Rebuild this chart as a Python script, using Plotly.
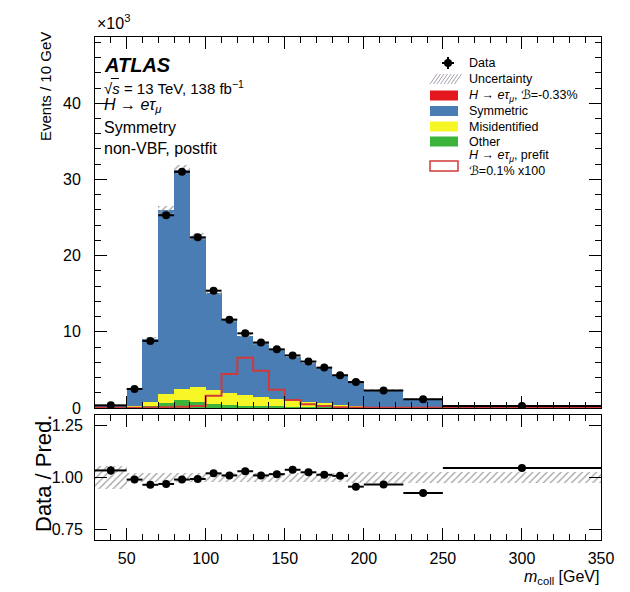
import plotly.graph_objects as go
from plotly.subplots import make_subplots

# ---------------- data ----------------
bin_edges = [30, 50, 60, 70, 80, 90, 100, 110, 120, 130, 140, 150, 160, 170, 180, 190, 200, 225, 250, 350]
# events / 10 GeV, in units of 10^3
data_vals = [0.35, 2.5, 8.8, 25.3, 31.0, 22.4, 15.4, 11.6, 9.8, 8.6, 7.7, 6.9, 6.1, 5.3, 4.3, 3.4, 2.3, 1.15, 0.27]
data_err = [0.02, 0.05, 0.09, 0.16, 0.18, 0.15, 0.12, 0.11, 0.1, 0.09, 0.09, 0.08, 0.08, 0.07, 0.07, 0.06, 0.04, 0.03, 0.01]
other_vals = [0.05, 0.05, 0.3, 0.6, 1.0, 0.8, 0.5, 0.35, 0.25, 0.2, 0.15, 0.12, 0.1, 0.08, 0.06, 0.05, 0.04, 0.02, 0.01]
misid_vals = [0.03, 0.1, 0.45, 1.3, 1.5, 1.9, 1.8, 1.65, 1.45, 1.2, 1.0, 0.93, 0.7, 0.52, 0.34, 0.2, 0.08, 0.04, 0.01]
symmetric_vals = [0.26, 2.35, 8.35, 24.1, 28.8, 19.8, 12.8, 9.5, 7.8, 7.1, 6.45, 5.6, 5.15, 4.63, 3.87, 3.3, 2.26, 1.18, 0.24]
prefit_signal_vals = [0.03, 0.03, 0.05, 0.1, 0.15, 0.25, 1.6, 4.45, 6.6, 4.9, 2.4, 1.05, 0.5, 0.25, 0.1, 0.05, 0.03, 0.02, 0.01]
ratio_vals = [1.034, 0.99, 0.965, 0.969, 0.99, 0.993, 1.02, 1.01, 1.03, 1.01, 1.016, 1.037, 1.025, 1.013, 1.008, 0.956, 0.967, 0.926, 1.046]
ratio_err = [0.02, 0.006, 0.005, 0.004, 0.004, 0.004, 0.005, 0.006, 0.006, 0.007, 0.007, 0.007, 0.008, 0.008, 0.009, 0.01, 0.01, 0.012, 0.012]
unc_rel = [0.055, 0.022, 0.02, 0.02, 0.02, 0.02, 0.02, 0.02, 0.02, 0.02, 0.02, 0.02, 0.02, 0.02, 0.02, 0.025, 0.025, 0.025, 0.025]

main_yticks = [0, 10, 20, 30, 40]
ratio_yticks = [0.75, 1.00, 1.25]
ratio_yticklabels = ["0.75", "1.00", "1.25"]
x_ticks = [50, 100, 150, 200, 250, 300, 350]

# ---------------- derived ----------------
centers = [(a + b) / 2 for a, b in zip(bin_edges[:-1], bin_edges[1:])]
widths = [b - a for a, b in zip(bin_edges[:-1], bin_edges[1:])]
halfw = [w / 2 for w in widths]
base_misid = other_vals
base_sym = [o + m for o, m in zip(other_vals, misid_vals)]
total = [b + s for b, s in zip(base_sym, symmetric_vals)]
unc_abs = [t * u for t, u in zip(total, unc_rel)]

BLUE = "#4a7db3"
YELLOW = "#f6f626"
GREEN = "#3cb43c"
RED = "#e3171d"
SIGRED = "#d23a3a"
HATCH = "#a0a0a0"
FONT = "Liberation Sans, Arial, Helvetica, sans-serif"

fig = make_subplots(rows=2, cols=1, shared_xaxes=False, vertical_spacing=0.0)

fig.add_trace(go.Bar(x=centers, y=symmetric_vals, base=base_sym, width=widths,
                     marker=dict(color=BLUE, line=dict(width=0)), name="Symmetric",
                     showlegend=False), row=1, col=1)
fig.add_trace(go.Bar(x=centers, y=misid_vals, base=base_misid, width=widths,
                     marker=dict(color=YELLOW, line=dict(width=0)), name="Misidentified",
                     showlegend=False), row=1, col=1)
fig.add_trace(go.Bar(x=centers, y=other_vals, base=[0] * len(other_vals), width=widths,
                     marker=dict(color=GREEN, line=dict(width=0)), name="Other",
                     showlegend=False), row=1, col=1)
fig.add_trace(go.Bar(x=centers, y=[2 * u for u in unc_abs],
                     base=[t - u for t, u in zip(total, unc_abs)], width=widths,
                     marker=dict(color="rgba(0,0,0,0)", line=dict(width=0),
                                 pattern=dict(shape="/", fgcolor=HATCH, bgcolor="rgba(0,0,0,0)",
                                              size=5, solidity=0.25, fillmode="replace")),
                     name="Uncertainty", showlegend=False), row=1, col=1)

# prefit signal step outline
step_x = bin_edges[:]
step_y = prefit_signal_vals + [prefit_signal_vals[-1]]
fig.add_trace(go.Scatter(x=step_x, y=step_y, mode="lines", line=dict(color=SIGRED, width=2, shape="hv"),
                         showlegend=False, hoverinfo="skip"), row=1, col=1)

fig.add_trace(go.Scatter(x=centers, y=data_vals, mode="markers",
                         marker=dict(color="black", size=8),
                         error_x=dict(type="data", array=halfw, width=0, thickness=2, color="black"),
                         error_y=dict(type="data", array=data_err, width=0, thickness=2, color="black"),
                         showlegend=False, name="Data"), row=1, col=1)

# ratio panel
fig.add_trace(go.Bar(x=centers, y=[2 * u for u in unc_rel], base=[1 - u for u in unc_rel], width=widths,
                     marker=dict(color="rgba(0,0,0,0)", line=dict(width=0),
                                 pattern=dict(shape="/", fgcolor=HATCH, bgcolor="rgba(0,0,0,0)",
                                              size=5, solidity=0.25, fillmode="replace")),
                     showlegend=False), row=2, col=1)
fig.add_trace(go.Scatter(x=centers, y=ratio_vals, mode="markers",
                         marker=dict(color="black", size=8),
                         error_x=dict(type="data", array=halfw, width=0, thickness=2, color="black"),
                         error_y=dict(type="data", array=ratio_err, width=0, thickness=2, color="black"),
                         showlegend=False), row=2, col=1)

# ---------------- layout ----------------
# the page body adds an 8 px offset, so the figure is 8 px smaller than the window
OFF = 8
PL, PR, PT, PB = 95, 601, 37, 540          # plot frame in window pixels
WIN_W, WIN_H = 630, 592
W, H = WIN_W - OFF, WIN_H - OFF
L, T = PL - OFF, PT - OFF
R, B = WIN_W - PR, WIN_H - PB
pw = PR - PL
ph = PB - PT


def px_x(x):
    return (x - PL) / pw


def px_y(y):
    return (PB - y) / ph


main_bottom = px_y(408)
ratio_top = px_y(415)

axis_common = dict(showline=True, linecolor="black", linewidth=1, mirror="ticks", ticks="inside",
                   tickcolor="black", showgrid=False, zeroline=False,
                   tickfont=dict(family=FONT, size=16, color="black"))

fig.update_layout(
    width=W, height=H, margin=dict(l=L, r=R, t=T, b=B, autoexpand=False),
    paper_bgcolor="white", plot_bgcolor="white",
    barmode="overlay", bargap=0, showlegend=False,
    font=dict(family=FONT, color="black"),
)
fig.update_xaxes(range=[30, 350], tickvals=x_ticks, ticklen=12,
                 minor=dict(ticks="inside", dtick=10, tick0=0, ticklen=6, tickcolor="black", showgrid=False),
                 **axis_common)
fig.update_xaxes(showticklabels=False, row=1, col=1)
fig.update_xaxes(showticklabels=True, ticklabelstandoff=4, row=2, col=1)
fig.update_yaxes(range=[0, 48.7], tickvals=main_yticks, ticklen=12, ticklabelstandoff=10,
                 minor=dict(ticks="inside", dtick=2, tick0=0, ticklen=6, tickcolor="black", showgrid=False),
                 domain=[main_bottom, 1], row=1, col=1, **axis_common)
fig.update_yaxes(range=[0.7, 1.3], tickvals=ratio_yticks, ticktext=ratio_yticklabels, ticklen=12,
                 ticklabelstandoff=8, domain=[0, ratio_top], row=2, col=1, **axis_common)

ann = []


def text(x, y, s, size, xanchor="left", yanchor="middle", angle=0):
    ann.append(dict(x=px_x(x), y=px_y(y), xref="paper", yref="paper", text=s, showarrow=False,
                    xanchor=xanchor, yanchor=yanchor, textangle=angle,
                    font=dict(family=FONT, size=size, color="black")))


SCRB = "<span style='font-family:DejaVu Sans'>ℬ</span>"

text(95, 22, "×10<sup>3</sup>", 16)
text(45, 87, "Events / 10 GeV", 15, xanchor="center", yanchor="middle", angle=-90)
text(43, 474, "Data / Pred.", 22, xanchor="center", yanchor="middle", angle=-90)
text(601, 577, "<i>m</i><sub>coll</sub> [GeV]", 16, xanchor="right")

text(102, 65, "<b><i>ATLAS</i></b>", 20)
text(102, 87, "√<i>s</i> = 13 TeV, 138 fb<sup>−1</sup>", 15)
text(102, 106, "<i>H</i> → <i>eτ</i><sub><i>μ</i></sub>", 16)
text(102, 128, "Symmetry", 16)
text(102, 148, "non-VBF, postfit", 16)

# legend (drawn manually)
shapes = []
# overline of the square root
shapes.append(dict(type="line", xref="paper", yref="paper", x0=px_x(111), x1=px_x(119),
                   y0=px_y(78.5), y1=px_y(78.5), line=dict(width=1, color="black")))
leg_x0, leg_x1, leg_tx = 430, 458, 467
leg_font = 12.5


def box(yc, fill, line_color=None, h=10):
    shapes.append(dict(type="rect", xref="paper", yref="paper",
                       x0=px_x(leg_x0), x1=px_x(leg_x1), y0=px_y(yc + h / 2), y1=px_y(yc - h / 2),
                       fillcolor=fill, line=dict(width=1.5 if line_color else 0, color=line_color or fill)))


# Data
shapes.append(dict(type="circle", xref="paper", yref="paper", x0=px_x(444), x1=px_x(452),
                   y0=px_y(67), y1=px_y(59), fillcolor="black", line=dict(width=0)))
shapes.append(dict(type="line", xref="paper", yref="paper", x0=px_x(442), x1=px_x(454),
                   y0=px_y(63), y1=px_y(63), line=dict(width=2, color="black")))
shapes.append(dict(type="line", xref="paper", yref="paper", x0=px_x(448), x1=px_x(448),
                   y0=px_y(57), y1=px_y(69), line=dict(width=2, color="black")))
text(leg_tx, 63, "Data", leg_font)
# Uncertainty (hatched)
for i in range(8):
    xs = 430 + i * 3.5
    shapes.append(dict(type="line", xref="paper", yref="paper", x0=px_x(xs), x1=px_x(xs + 7),
                       y0=px_y(84), y1=px_y(74), line=dict(width=1, color="#a9a0b0")))
text(leg_tx, 79, "Uncertainty", leg_font)
box(95.5, RED)
text(leg_tx, 95.5, "<i>H</i> → <i>eτ</i><sub><i>μ</i></sub>, " + SCRB + "=-0.33%", leg_font)
box(111, BLUE)
text(leg_tx, 111, "Symmetric", leg_font)
box(126.5, YELLOW)
text(leg_tx, 126.5, "Misidentified", leg_font)
box(141.5, GREEN)
text(leg_tx, 141.5, "Other", leg_font)
box(166, "white", line_color=SIGRED)
text(leg_tx, 156, "<i>H</i> → <i>eτ</i><sub><i>μ</i></sub>, prefit", leg_font)
text(leg_tx, 170, SCRB + "=0.1% x100", leg_font)

fig.update_layout(annotations=ann, shapes=shapes)

fig.write_html("out.html")
